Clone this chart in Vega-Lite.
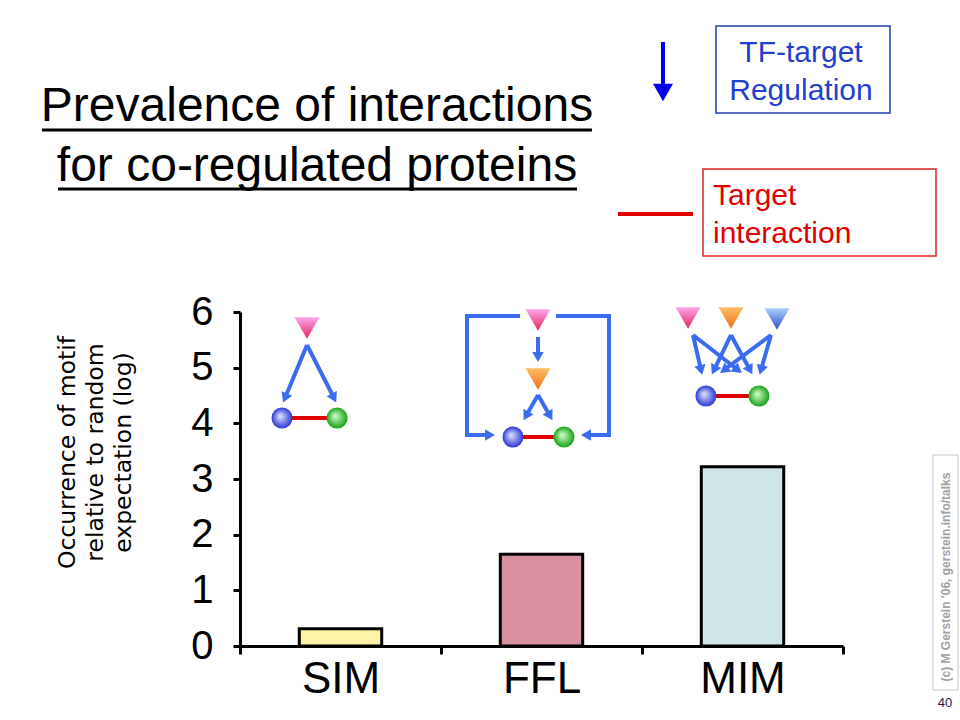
{
  "$schema": "https://vega.github.io/schema/vega-lite/v6.json",
  "width": 603,
  "height": 334,
  "autosize": "none",
  "padding": {"left": 240, "top": 312, "right": 117, "bottom": 74},
  "background": "white",
  "config": {"view": {"stroke": null}, "font": "Liberation Sans"},
  "datasets": {
    "motifs": [
      {"motif": "SIM", "occurrence": 0.31},
      {"motif": "FFL", "occurrence": 1.65},
      {"motif": "MIM", "occurrence": 3.22}
    ],
    "tf_pink": [
      {"motif": "SIM", "gx": 0.3333, "gy": 5.712},
      {"motif": "FFL", "gx": 1.4826, "gy": 5.856},
      {"motif": "MIM", "gx": 2.2289, "gy": 5.892}
    ],
    "tf_orange": [
      {"motif": "FFL", "gx": 1.4826, "gy": 4.796},
      {"motif": "MIM", "gx": 2.4428, "gy": 5.892}
    ],
    "tf_blue": [
      {"motif": "MIM", "gx": 2.6716, "gy": 5.874}
    ],
    "gene_a": [
      {"motif": "SIM", "gx": 0.209, "gy": 4.096},
      {"motif": "FFL", "gx": 1.358, "gy": 3.754},
      {"motif": "MIM", "gx": 2.318, "gy": 4.491}
    ],
    "gene_b": [
      {"motif": "SIM", "gx": 0.483, "gy": 4.096},
      {"motif": "FFL", "gx": 1.612, "gy": 3.754},
      {"motif": "MIM", "gx": 2.582, "gy": 4.491}
    ],
    "interactions": [
      {"motif": "SIM", "gx": 0.209, "gx2": 0.483, "gy": 4.096},
      {"motif": "FFL", "gx": 1.358, "gx2": 1.612, "gy": 3.754},
      {"motif": "MIM", "gx": 2.318, "gx2": 2.582, "gy": 4.491}
    ],
    "regulation": [
      {"motif": "SIM", "gx": 0.3333, "gy": 5.407, "gx2": 0.2239, "gy2": 4.455},
      {"motif": "SIM", "gx": 0.3333, "gy": 5.407, "gx2": 0.4677, "gy2": 4.455},
      {"motif": "FFL", "gx": 1.4826, "gy": 5.551, "gx2": 1.4826, "gy2": 5.191},
      {"motif": "FFL", "gx": 1.4826, "gy": 4.509, "gx2": 1.4229, "gy2": 4.132},
      {"motif": "FFL", "gx": 1.4826, "gy": 4.509, "gx2": 1.5423, "gy2": 4.132},
      {"motif": "FFL", "gx": 1.1294, "gy": 3.79, "gx2": 1.2438, "gy2": 3.79},
      {"motif": "FFL", "gx": 1.8358, "gy": 3.79, "gx2": 1.7214, "gy2": 3.79},
      {"motif": "MIM", "gx": 2.2537, "gy": 5.587, "gx2": 2.2935, "gy2": 4.958},
      {"motif": "MIM", "gx": 2.2537, "gy": 5.587, "gx2": 2.4776, "gy2": 4.958},
      {"motif": "MIM", "gx": 2.4428, "gy": 5.587, "gx2": 2.3582, "gy2": 4.958},
      {"motif": "MIM", "gx": 2.4428, "gy": 5.587, "gx2": 2.5373, "gy2": 4.958},
      {"motif": "MIM", "gx": 2.6418, "gy": 5.587, "gx2": 2.408, "gy2": 4.958},
      {"motif": "MIM", "gx": 2.6418, "gy": 5.587, "gx2": 2.592, "gy2": 4.958}
    ],
    "loop": [
      {"motif": "FFL", "gx": 1.3831, "gy": 5.928, "gx2": 1.1294, "gy2": 5.928},
      {"motif": "FFL", "gx": 1.1294, "gy": 5.928, "gx2": 1.1294, "gy2": 3.79},
      {"motif": "FFL", "gx": 1.5821, "gy": 5.928, "gx2": 1.8358, "gy2": 5.928},
      {"motif": "FFL", "gx": 1.8358, "gy": 5.928, "gx2": 1.8358, "gy2": 3.79}
    ]
  },
  "layer": [
    {
      "data": {"name": "motifs"},
      "mark": {"type": "bar", "stroke": "black", "strokeWidth": 3, "width": {"band": 0.41}},
      "encoding": {
        "x": {
          "field": "motif", "type": "nominal", "sort": ["SIM", "FFL", "MIM"],
          "scale": {"paddingInner": 0, "paddingOuter": 0},
          "axis": {
            "title": null, "labelAngle": 0, "labelFontSize": 44, "labelFont": "Liberation Sans",
            "labelColor": "black", "labelPadding": 3, "domainColor": "black", "domainWidth": 3,
            "tickColor": "black", "tickWidth": 3, "tickSize": 8, "tickBand": "extent", "grid": false
          }
        },
        "y": {
          "field": "occurrence", "type": "quantitative",
          "scale": {"domain": [0, 6], "nice": false},
          "axis": {
            "values": [0, 1, 2, 3, 4, 5, 6], "grid": false, "labelFontSize": 40,
            "labelFont": "Liberation Sans", "labelColor": "black", "labelPadding": 20,
            "labelFlush": false, "labelOverlap": false,
            "tickSize": 7, "tickWidth": 3, "tickColor": "black", "domainColor": "black", "domainWidth": 3,
            "title": ["Occurrence of motif", "relative to random", "expectation (log)"],
            "titleFont": "DejaVu Sans", "titleFontSize": 23.5, "titleFontWeight": "normal",
            "titleColor": "black", "titleLineHeight": 28, "titleX": -173, "titleY": 140,
            "titleAngle": -90, "titleAlign": "center", "titleBaseline": "middle"
          }
        },
        "fill": {
          "field": "motif", "type": "nominal",
          "scale": {"domain": ["SIM", "FFL", "MIM"], "range": ["#fdf2a6", "#db90a0", "#cfe6e8"]},
          "legend": null
        }
      }
    },
    {
      "layer": [
        {
          "data": {"name": "loop"},
          "mark": {"type": "rule", "color": "#3a6cf0", "strokeWidth": 4, "strokeCap": "square"},
          "encoding": {
            "x": {"field": "gx", "type": "quantitative", "scale": {"domain": [0, 3], "nice": false, "zero": false}, "axis": null},
            "y": {"field": "gy", "type": "quantitative", "scale": {"domain": [0, 6], "nice": false, "zero": false}, "axis": null},
            "x2": {"field": "gx2"},
            "y2": {"field": "gy2"}
          }
        },
        {
          "data": {"name": "regulation"},
          "mark": {"type": "rule", "color": "#3a6cf0", "strokeWidth": 4},
          "encoding": {
            "x": {"field": "gx", "type": "quantitative", "axis": null},
            "y": {"field": "gy", "type": "quantitative", "axis": null},
            "x2": {"field": "gx2"},
            "y2": {"field": "gy2"}
          }
        },
        {
          "data": {"name": "regulation"},
          "transform": [
            {"calculate": "atan2((datum.gx2 - datum.gx) * 201, (datum.gy2 - datum.gy) * 55.67) * 180 / PI", "as": "heading"}
          ],
          "mark": {"type": "point", "shape": "triangle-up", "filled": true, "fill": "#3a6cf0", "strokeWidth": 0, "size": 130, "opacity": 1},
          "encoding": {
            "x": {"field": "gx2", "type": "quantitative", "axis": null},
            "y": {"field": "gy2", "type": "quantitative", "axis": null},
            "angle": {"field": "heading", "type": "quantitative", "scale": null}
          }
        },
        {
          "data": {"name": "interactions"},
          "mark": {"type": "rule", "color": "#e00000", "strokeWidth": 4},
          "encoding": {
            "x": {"field": "gx", "type": "quantitative", "axis": null},
            "y": {"field": "gy", "type": "quantitative", "axis": null},
            "x2": {"field": "gx2"}
          }
        },
        {
          "data": {"name": "tf_pink"},
          "mark": {
            "type": "point", "shape": "triangle-down", "filled": true, "size": 625, "strokeWidth": 0, "opacity": 1,
            "fill": {"gradient": "linear", "x1": 0, "y1": 0, "x2": 0, "y2": 1,
              "stops": [{"offset": 0, "color": "#ffa6ee"}, {"offset": 1, "color": "#e3245a"}]}
          },
          "encoding": {
            "x": {"field": "gx", "type": "quantitative", "axis": null},
            "y": {"field": "gy", "type": "quantitative", "axis": null}
          }
        },
        {
          "data": {"name": "tf_orange"},
          "mark": {
            "type": "point", "shape": "triangle-down", "filled": true, "size": 625, "strokeWidth": 0, "opacity": 1,
            "fill": {"gradient": "linear", "x1": 0, "y1": 0, "x2": 0, "y2": 1,
              "stops": [{"offset": 0, "color": "#ffbe6a"}, {"offset": 1, "color": "#f07012"}]}
          },
          "encoding": {
            "x": {"field": "gx", "type": "quantitative", "axis": null},
            "y": {"field": "gy", "type": "quantitative", "axis": null}
          }
        },
        {
          "data": {"name": "tf_blue"},
          "mark": {
            "type": "point", "shape": "triangle-down", "filled": true, "size": 625, "strokeWidth": 0, "opacity": 1,
            "fill": {"gradient": "linear", "x1": 0, "y1": 0, "x2": 0, "y2": 1,
              "stops": [{"offset": 0, "color": "#aad2ff"}, {"offset": 1, "color": "#2f4cc0"}]}
          },
          "encoding": {
            "x": {"field": "gx", "type": "quantitative", "axis": null},
            "y": {"field": "gy", "type": "quantitative", "axis": null}
          }
        },
        {
          "data": {"name": "gene_a"},
          "mark": {
            "type": "point", "shape": "circle", "filled": true, "size": 441, "strokeWidth": 0, "opacity": 1,
            "fill": {"gradient": "radial", "x1": 0.4, "y1": 0.4, "r1": 0, "x2": 0.5, "y2": 0.5, "r2": 0.5,
              "stops": [{"offset": 0, "color": "#e2eaff"}, {"offset": 1, "color": "#2a36d6"}]}
          },
          "encoding": {
            "x": {"field": "gx", "type": "quantitative", "axis": null},
            "y": {"field": "gy", "type": "quantitative", "axis": null}
          }
        },
        {
          "data": {"name": "gene_b"},
          "mark": {
            "type": "point", "shape": "circle", "filled": true, "size": 441, "strokeWidth": 0, "opacity": 1,
            "fill": {"gradient": "radial", "x1": 0.4, "y1": 0.4, "r1": 0, "x2": 0.5, "y2": 0.5, "r2": 0.5,
              "stops": [{"offset": 0, "color": "#d8ffd2"}, {"offset": 1, "color": "#17a317"}]}
          },
          "encoding": {
            "x": {"field": "gx", "type": "quantitative", "axis": null},
            "y": {"field": "gy", "type": "quantitative", "axis": null}
          }
        },
        {
          "data": {"values": [{"gx": 2.1045, "gy": 10.85, "gy2": 10.023}]},
          "mark": {"type": "rule", "color": "#0000ee", "strokeWidth": 4},
          "encoding": {
            "x": {"field": "gx", "type": "quantitative", "axis": null},
            "y": {"field": "gy", "type": "quantitative", "axis": null},
            "y2": {"field": "gy2"}
          }
        },
        {
          "data": {"values": [{"gx": 2.1045, "gy": 9.943}]},
          "mark": {"type": "point", "shape": "triangle-down", "filled": true, "fill": "#0000ee", "strokeWidth": 0, "size": 400, "opacity": 1},
          "encoding": {
            "x": {"field": "gx", "type": "quantitative", "axis": null},
            "y": {"field": "gy", "type": "quantitative", "axis": null}
          }
        },
        {
          "data": {"values": [{"gx": 2.3682, "gx2": 3.2338, "gy": 9.574, "gy2": 11.137}]},
          "mark": {"type": "rect", "fill": "white", "stroke": "#1f3fae", "strokeWidth": 1.5},
          "encoding": {
            "x": {"field": "gx", "type": "quantitative", "axis": null},
            "y": {"field": "gy", "type": "quantitative", "axis": null},
            "x2": {"field": "gx2"},
            "y2": {"field": "gy2"}
          }
        },
        {
          "data": {"values": [{"label": "TF-target\nRegulation", "gx": 2.791, "gy": 10.491}]},
          "mark": {"type": "text", "lineBreak": "\n", "align": "center", "baseline": "alphabetic", "font": "Liberation Sans", "fontSize": 30, "lineHeight": 38, "color": "#1f3fcc"},
          "encoding": {
            "x": {"field": "gx", "type": "quantitative", "axis": null},
            "y": {"field": "gy", "type": "quantitative", "axis": null},
            "text": {"field": "label"}
          }
        },
        {
          "data": {"values": [{"gx": 1.8806, "gx2": 2.2537, "gy": 7.76}]},
          "mark": {"type": "rule", "color": "#e00000", "strokeWidth": 4},
          "encoding": {
            "x": {"field": "gx", "type": "quantitative", "axis": null},
            "y": {"field": "gy", "type": "quantitative", "axis": null},
            "x2": {"field": "gx2"}
          }
        },
        {
          "data": {"values": [{"gx": 2.3035, "gx2": 3.4627, "gy": 7.006, "gy2": 8.568}]},
          "mark": {"type": "rect", "fill": "white", "stroke": "#e02020", "strokeWidth": 1.5},
          "encoding": {
            "x": {"field": "gx", "type": "quantitative", "axis": null},
            "y": {"field": "gy", "type": "quantitative", "axis": null},
            "x2": {"field": "gx2"},
            "y2": {"field": "gy2"}
          }
        },
        {
          "data": {"values": [{"label": "Target\ninteraction", "gx": 2.3532, "gy": 7.922}]},
          "mark": {"type": "text", "lineBreak": "\n", "align": "left", "baseline": "alphabetic", "font": "Liberation Sans", "fontSize": 30, "lineHeight": 38, "color": "#e00000"},
          "encoding": {
            "x": {"field": "gx", "type": "quantitative", "axis": null},
            "y": {"field": "gy", "type": "quantitative", "axis": null},
            "text": {"field": "label"}
          }
        },
        {
          "data": {"values": [{"label": "Prevalence of interactions\nfor co-regulated proteins", "gx": 0.383, "gy": 9.43}]},
          "mark": {"type": "text", "lineBreak": "\n", "align": "center", "baseline": "alphabetic", "font": "Liberation Sans", "fontSize": 48, "lineHeight": 60, "color": "black"},
          "encoding": {
            "x": {"field": "gx", "type": "quantitative", "axis": null},
            "y": {"field": "gy", "type": "quantitative", "axis": null},
            "text": {"field": "label"}
          }
        },
        {
          "data": {"values": [{"gx": -0.985, "gx2": 1.751, "gy": 9.27}, {"gx": -0.9055, "gx2": 1.6766, "gy": 8.21}]},
          "mark": {"type": "rule", "color": "black", "strokeWidth": 3},
          "encoding": {
            "x": {"field": "gx", "type": "quantitative", "axis": null},
            "y": {"field": "gy", "type": "quantitative", "axis": null},
            "x2": {"field": "gx2"}
          }
        },
        {
          "data": {"values": [{"gx": 3.4478, "gx2": 3.5721, "gy": -0.79, "gy2": 3.431}]},
          "mark": {"type": "rect", "fill": "white", "stroke": "#c8c8c8", "strokeWidth": 1},
          "encoding": {
            "x": {"field": "gx", "type": "quantitative", "axis": null},
            "y": {"field": "gy", "type": "quantitative", "axis": null},
            "x2": {"field": "gx2"},
            "y2": {"field": "gy2"}
          }
        },
        {
          "data": {"values": [{"label": "(c) M Gerstein '06, gerstein.info/talks", "gx": 3.5124, "gy": 1.239}]},
          "mark": {"type": "text", "angle": 270, "align": "center", "baseline": "middle", "font": "Liberation Sans", "fontSize": 12, "fontWeight": "bold", "color": "#a0a0a0"},
          "encoding": {
            "x": {"field": "gx", "type": "quantitative", "axis": null},
            "y": {"field": "gy", "type": "quantitative", "axis": null},
            "text": {"field": "label"}
          }
        },
        {
          "data": {"values": [{"label": "40", "gx": 3.5075, "gy": -1.024}]},
          "mark": {"type": "text", "align": "center", "baseline": "middle", "font": "Liberation Sans", "fontSize": 13, "color": "#1c1c4c"},
          "encoding": {
            "x": {"field": "gx", "type": "quantitative", "axis": null},
            "y": {"field": "gy", "type": "quantitative", "axis": null},
            "text": {"field": "label"}
          }
        }
      ]
    }
  ],
  "resolve": {"scale": {"x": "independent", "y": "independent", "fill": "independent"}}
}
